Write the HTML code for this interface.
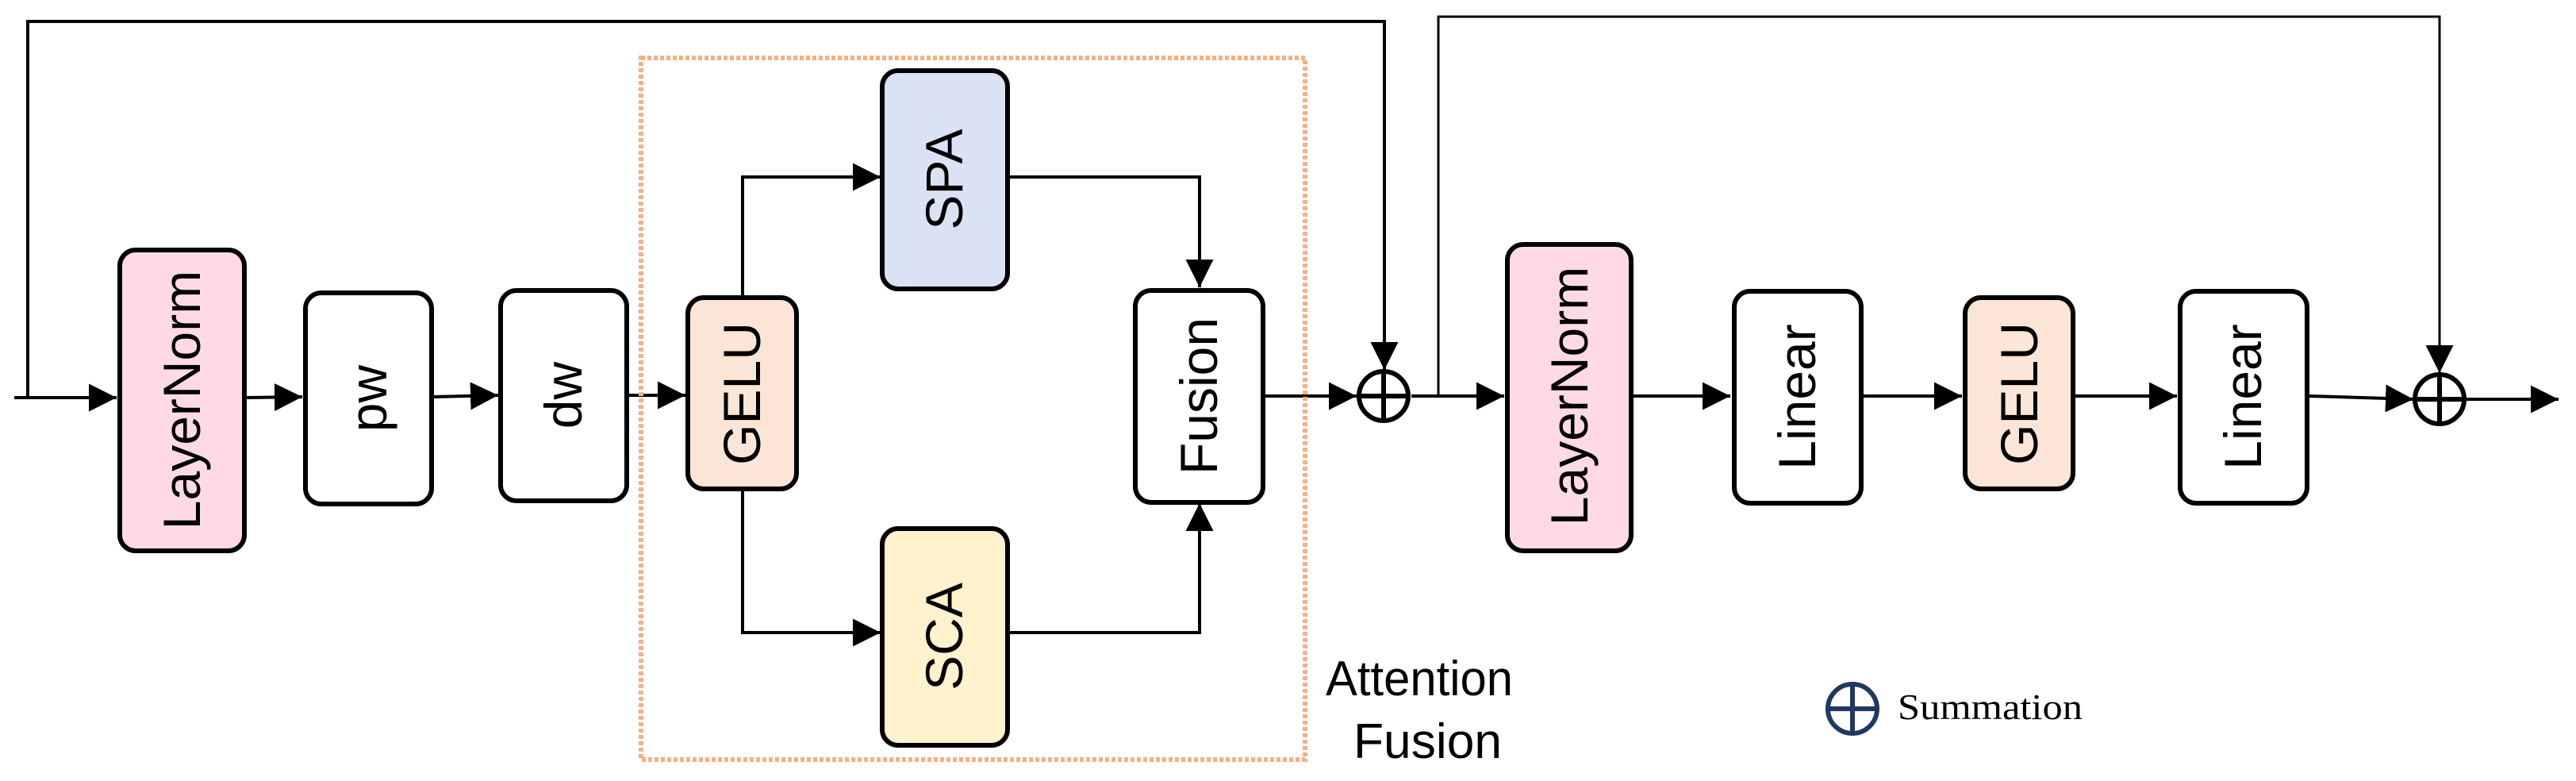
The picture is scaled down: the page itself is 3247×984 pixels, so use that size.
<!DOCTYPE html>
<html><head><meta charset="utf-8"><style>
html,body{margin:0;padding:0;background:#fff;}
svg{display:block;}
</style></head><body>
<svg width="3247" height="984" viewBox="0 0 3247 984" xmlns="http://www.w3.org/2000/svg" font-family="'Liberation Sans',Arial,sans-serif">
<defs>
<marker id="a" viewBox="0 0 10 10" refX="10" refY="5" markerWidth="35" markerHeight="37" markerUnits="userSpaceOnUse" orient="auto">
<path d="M0,0 L10,5 L0,10 z" fill="#000"/></marker>
</defs>
<g fill="none" stroke="#000" stroke-width="4">
<polyline points="35,501 35,27 1745,27 1745,466" marker-end="url(#a)"/>
<line x1="18" y1="501" x2="147" y2="501" marker-end="url(#a)"/>
<line x1="310" y1="501" x2="381" y2="500" marker-end="url(#a)"/>
<line x1="546" y1="500" x2="628" y2="498" marker-end="url(#a)"/>
<line x1="792" y1="498" x2="864" y2="498" marker-end="url(#a)"/>
<polyline points="936,373 936,223 1110,223" marker-end="url(#a)"/>
<polyline points="936,617 936,797 1110,797" marker-end="url(#a)"/>
<polyline points="1271,223 1512,223 1512,362" marker-end="url(#a)"/>
<polyline points="1271,797 1512,797 1512,634" marker-end="url(#a)"/>
<line x1="1594" y1="499" x2="1710" y2="499" marker-end="url(#a)"/>
<line x1="1779" y1="499" x2="1896" y2="499" marker-end="url(#a)"/>
<polyline points="1813,499 1813,21 3075,21 3075,470" stroke-width="3" marker-end="url(#a)"/>
<line x1="2057" y1="499" x2="2181" y2="499" marker-end="url(#a)"/>
<line x1="2347" y1="499" x2="2473" y2="499" marker-end="url(#a)"/>
<line x1="2615" y1="499" x2="2744" y2="499" marker-end="url(#a)"/>
<line x1="2911" y1="499" x2="3042" y2="503" marker-end="url(#a)"/>
<line x1="3109" y1="503" x2="3225" y2="503" marker-end="url(#a)"/>
</g>
<rect x="808" y="73" width="837" height="884" fill="none" stroke="#F4B183" stroke-width="6" stroke-dasharray="5,3"/>
<g stroke="#000" stroke-width="6">
<rect x="151" y="315" width="157" height="379" rx="20" fill="#FFD9E6"/>
<rect x="385" y="369" width="159" height="266" rx="20" fill="#fff"/>
<rect x="631" y="366" width="159" height="265" rx="20" fill="#fff"/>
<rect x="867" y="375" width="137" height="241" rx="20" fill="#FBE5D6"/>
<rect x="1112" y="89" width="158" height="275" rx="20" fill="#DAE3F3"/>
<rect x="1112" y="666" width="158" height="273" rx="20" fill="#FFF2CC"/>
<rect x="1431" y="366" width="161" height="267" rx="20" fill="#fff"/>
<rect x="1900" y="308" width="156" height="386" rx="20" fill="#FFD9E6"/>
<rect x="2186" y="367" width="160" height="267" rx="20" fill="#fff"/>
<rect x="2477" y="375" width="136" height="241" rx="20" fill="#FBE5D6"/>
<rect x="2748" y="367" width="160" height="267" rx="20" fill="#fff"/>
</g>
<g stroke="#000" stroke-width="6" fill="none">
<circle cx="1744" cy="499" r="31"/>
<line x1="1744" y1="468" x2="1744" y2="530"/><line x1="1713" y1="499" x2="1775" y2="499"/>
<circle cx="3075" cy="503" r="31"/>
<line x1="3075" y1="472" x2="3075" y2="534"/><line x1="3044" y1="503" x2="3106" y2="503"/>
</g>
<g stroke="#1F3864" stroke-width="6" fill="none">
<circle cx="2335" cy="893" r="31"/>
<line x1="2335" y1="862" x2="2335" y2="924"/><line x1="2304" y1="893" x2="2366" y2="893"/>
</g>
<g font-size="66" fill="#000" text-anchor="middle">
<text transform="translate(252,504) rotate(-90)">LayerNorm</text>
<text transform="translate(487,502) rotate(-90)">pw</text>
<text transform="translate(733,498) rotate(-90)">dw</text>
<text transform="translate(958,496) rotate(-90)">GELU</text>
<text transform="translate(1213,226) rotate(-90)">SPA</text>
<text transform="translate(1213,802) rotate(-90)">SCA</text>
<text transform="translate(1534,499) rotate(-90)">Fusion</text>
<text transform="translate(2001,499) rotate(-90)">LayerNorm</text>
<text transform="translate(2288,500) rotate(-90)">Linear</text>
<text transform="translate(2568,496) rotate(-90)">GELU</text>
<text transform="translate(2850,500) rotate(-90)">Linear</text>
</g>
<g font-size="62" fill="#000">
<text x="1671" y="876" textLength="236" lengthAdjust="spacingAndGlyphs">Attention</text>
<text x="1706" y="955" textLength="187" lengthAdjust="spacingAndGlyphs">Fusion</text>
</g>
<text x="2392" y="906" font-family="'Liberation Serif',serif" font-size="46" textLength="233" lengthAdjust="spacingAndGlyphs">Summation</text>
</svg>
</body></html>
